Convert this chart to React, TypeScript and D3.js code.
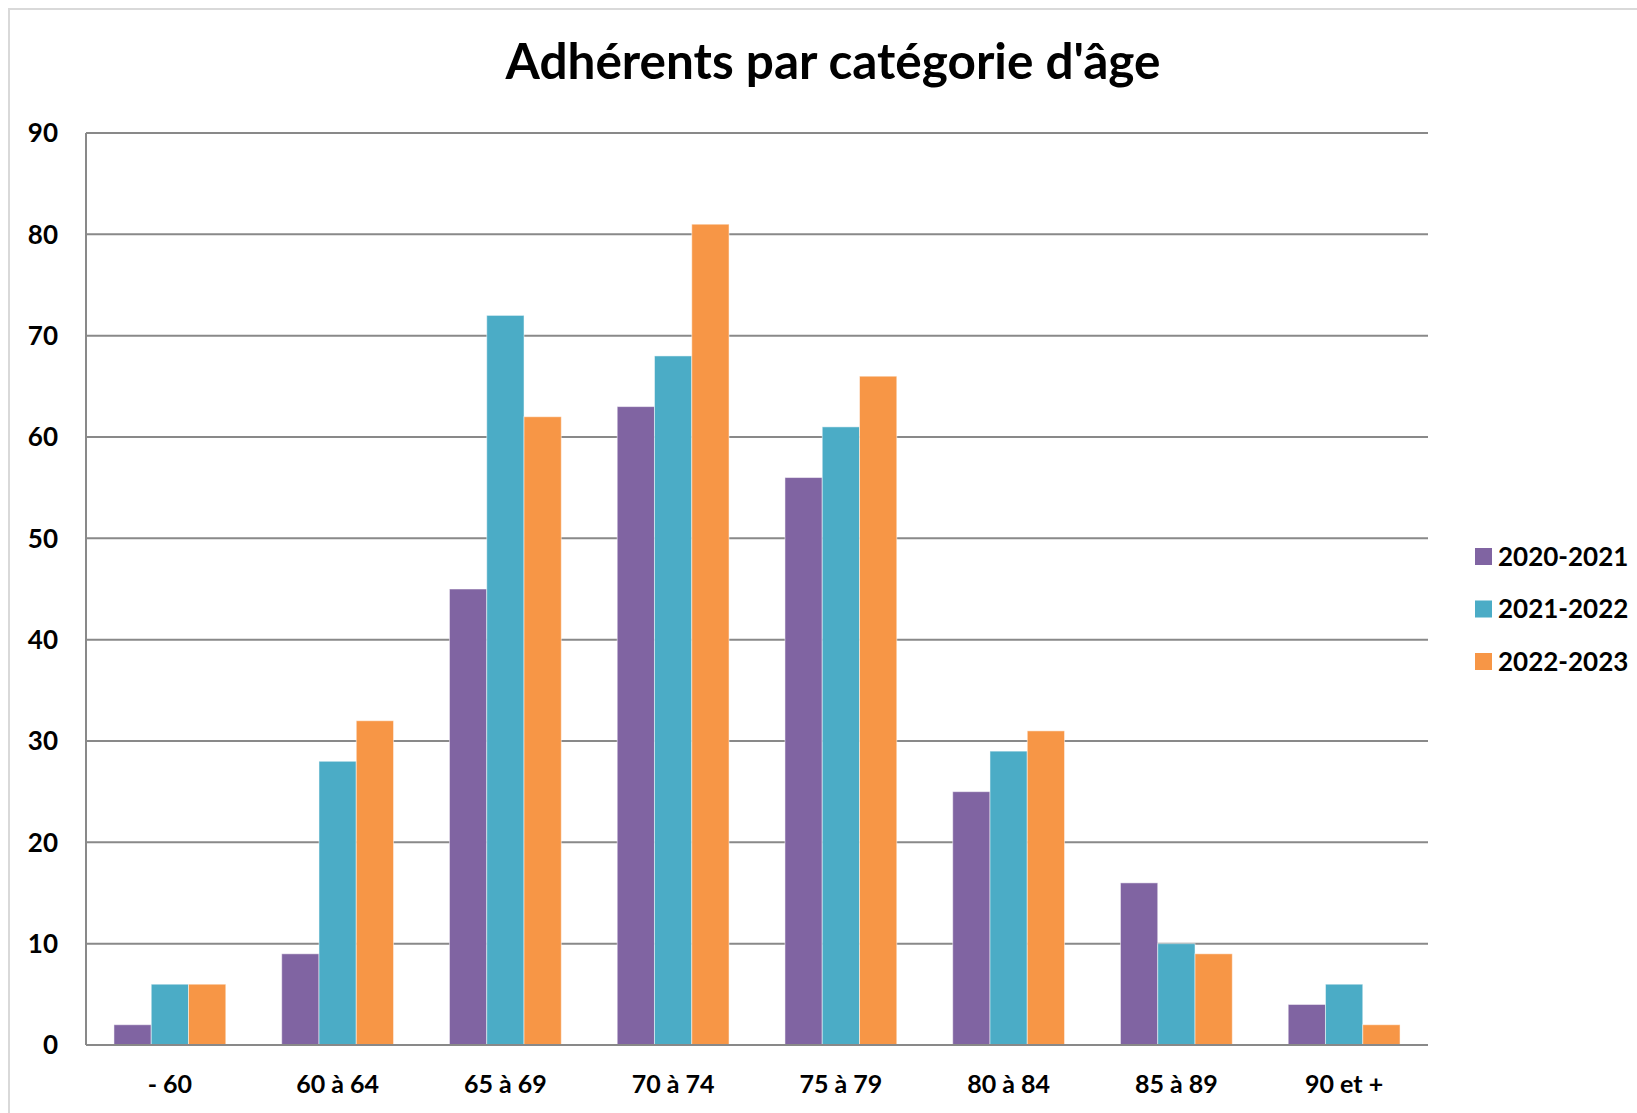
import React from 'react';
import * as d3 from 'd3';

const categories = ['- 60', '60 à 64', '65 à 69', '70 à 74', '75 à 79', '80 à 84', '85 à 89', '90 et +'];
const seriesNames = ['2020-2021', '2021-2022', '2022-2023'];
const values2020 = [2, 9, 45, 63, 56, 25, 16, 4];
const values2021 = [6, 28, 72, 68, 61, 29, 10, 6];
const values2022 = [6, 32, 62, 81, 66, 31, 9, 2];
const colors = ['#8064A2', '#4BACC6', '#F79646'];
const yTicks = [0, 10, 20, 30, 40, 50, 60, 70, 80, 90];
const title = "Adhérents par catégorie d'âge";

const W = 1637;
const H = 1113;
const FONT = 'Lato, "Open Sans", sans-serif';

export default function App() {
  const series = [values2020, values2021, values2022];
  const plotLeft = 86;
  const plotRight = 1428;
  const plotTop = 133;
  const plotBottom = 1045;

  const x0 = d3.scaleBand<string>().domain(categories).range([plotLeft, plotRight]).paddingInner(0).paddingOuter(0);
  const band = x0.bandwidth();
  const barW = band / 4.5;
  const x1 = d3.scaleBand<string>().domain(seriesNames).range([0, barW * 3]);
  const y = d3.scaleLinear().domain([0, 90]).range([plotBottom, plotTop]);

  return (
    <svg width={W} height={H} style={{ position: 'absolute', left: 0, top: 0, background: '#fff' }}>
      <rect x={9} y={9} width={W + 20} height={H + 20} fill="#fff" stroke="#d9d9d9" strokeWidth={2} />
      <text x={833} y={79} textAnchor="middle" fontFamily={FONT} fontWeight={700} fontSize={49.5} fill="#000">{title}</text>
      {yTicks.map((t) => (
        <g key={t}>
          <line x1={plotLeft} x2={plotRight} y1={y(t)} y2={y(t)} stroke="#898989" strokeWidth={2} />
          <text x={58} y={y(t)} dy="0.36em" textAnchor="end" fontFamily={FONT} fontWeight={700} fontSize={26} fill="#000">{t}</text>
        </g>
      ))}
      <line x1={plotLeft} x2={plotLeft} y1={plotTop} y2={plotBottom} stroke="#898989" strokeWidth={2} />
      {categories.map((c, i) => {
        const gx = (x0(c) as number) + (band - barW * 3) / 2;
        return (
          <g key={c}>
            {series.map((s, j) => (
              <rect key={j} x={gx + (x1(seriesNames[j]) as number)} y={y(s[i])} width={barW} height={y(0) - y(s[i])}
                fill={colors[j]} stroke="#ffffff" strokeOpacity={0.5} strokeWidth={1} />
            ))}
            <text x={(x0(c) as number) + band / 2} y={1093} textAnchor="middle" fontFamily={FONT} fontWeight={700} fontSize={25} fill="#000">{c}</text>
          </g>
        );
      })}
      <line x1={plotLeft} x2={plotRight} y1={y(0)} y2={y(0)} stroke="#898989" strokeWidth={2} />
      {seriesNames.map((n, j) => (
        <g key={n} transform={`translate(1475, ${548 + j * 52.5})`}>
          <rect x={0} y={0} width={17} height={17} fill={colors[j]} />
          <text x={23} y={17.5} fontFamily={FONT} fontWeight={700} fontSize={26} fill="#000">{n}</text>
        </g>
      ))}
    </svg>
  );
}
